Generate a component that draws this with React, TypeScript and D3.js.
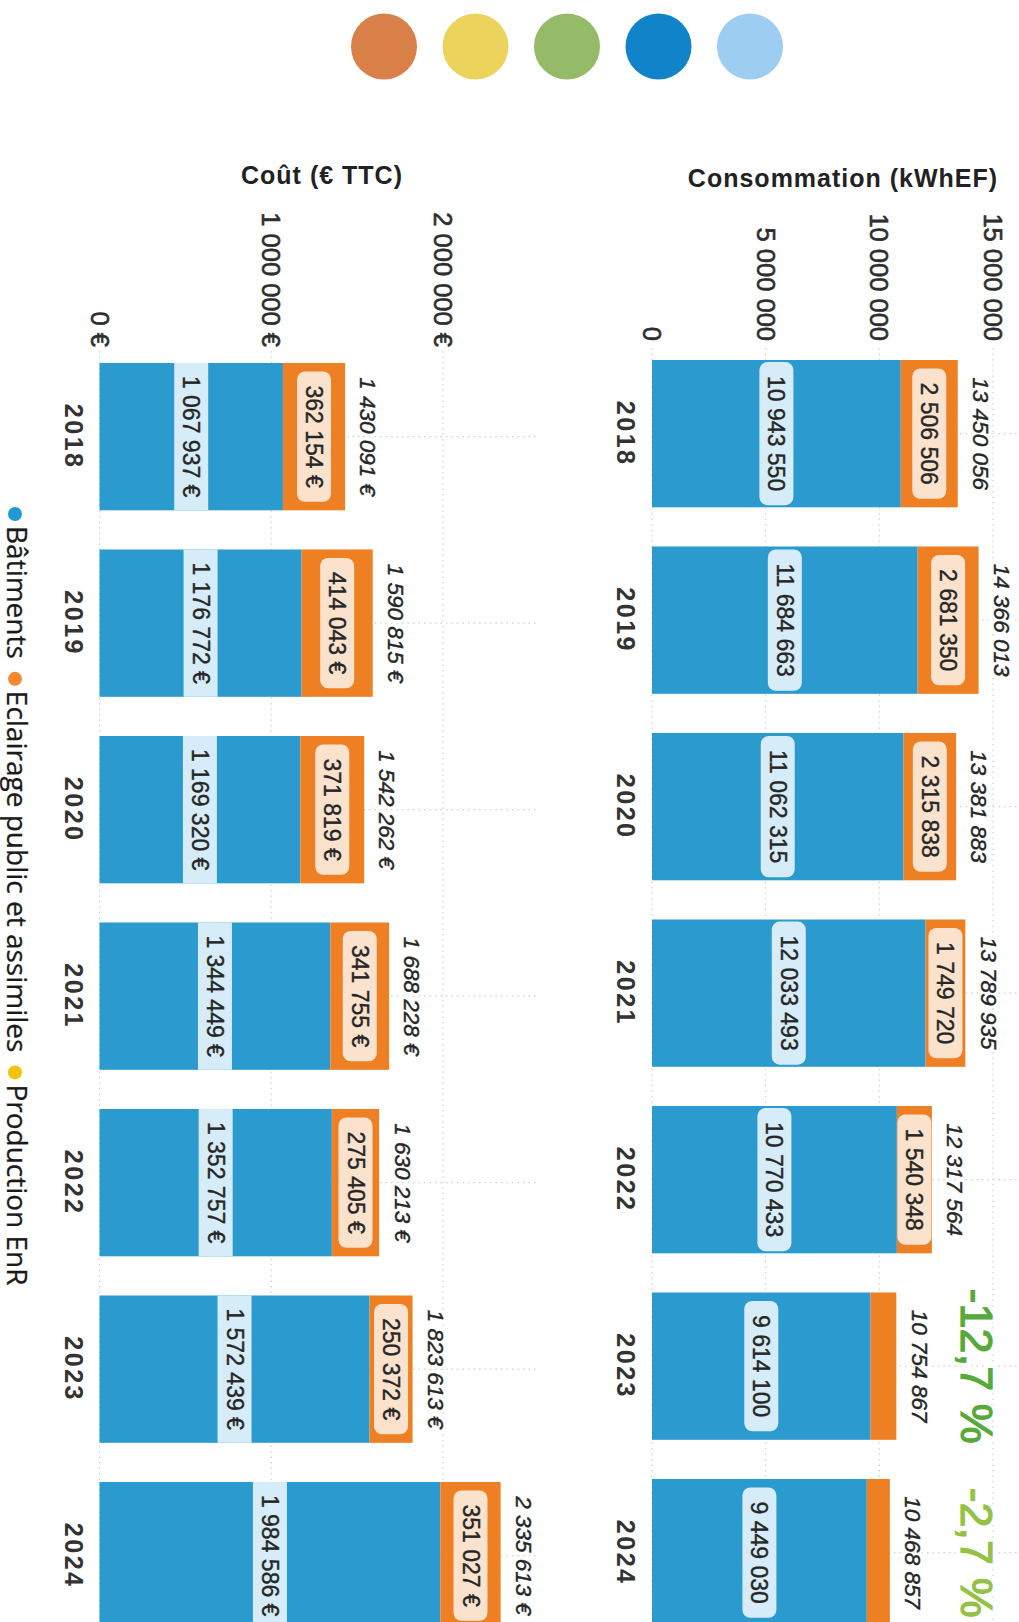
import React from 'react';
import * as d3 from 'd3';

// ---------- DATA ----------
const years = ['2018', '2019', '2020', '2021', '2022', '2023', '2024'];
const consoBatiments = [10943550, 11684663, 11062315, 12033493, 10770433, 9614100, 9449030];
const consoEclairage = [2506506, 2681350, 2315838, 1749720, 1540348, 1134000, 1013000];
const consoTotals = [13450056, 14366013, 13381883, 13789935, 12317564, 10754867, 10468857];
const coutBatiments = [1067937, 1176772, 1169320, 1344449, 1352757, 1572439, 1984586];
const coutEclairage = [362154, 414043, 371819, 341755, 275405, 250372, 351027];
const coutTotals = [1430091, 1590815, 1542262, 1688228, 1630213, 1823613, 2335613];
const consoTicks = [0, 5000000, 10000000, 15000000];
const coutTicks = [0, 1000000, 2000000];
const evolutionYears = ['2023', '2024'];
const evolutionLabels = ['-12,7 %', '-2,7 %'];
const evolutionColors = ['#56a93a', '#93c244'];
const legendLabels = ['Bâtiments', 'Eclairage public et assimiles', 'Production EnR'];
const legendColors = ['#2099d4', '#f18a2f', '#f4c20d'];
const decoColors = ['#d97f48', '#ecd45c', '#95bb68', '#1184c9', '#9dcdf0'];

// ---------- STYLE ----------
const W = 1019;
const H = 1622;
const BLUE = '#2b9bcf';
const ORANGE = '#ee7f22';
const BADGE_BLUE = '#d6edf9';
const BADGE_ORANGE = '#fbe2cd';
const TXT = '#262626';
const SANS = '"Liberation Sans", Arial, sans-serif';

const fr = d3.formatLocale({ decimal: ',', thousands: ' ', grouping: [3], currency: ['', ' €'] });
const fmtInt = fr.format(',d');
const fmtEuro = (v: number) => fmtInt(v) + ' €';

let _ctx: CanvasRenderingContext2D | null = null;
function measure(text: string, font: string): number {
  if (!_ctx) _ctx = document.createElement('canvas').getContext('2d');
  if (!_ctx) return text.length * 12;
  _ctx.font = font;
  return _ctx.measureText(text).width;
}

// band scale along the original (unrotated) horizontal axis
const xBand = d3.scaleBand<string>().domain(years).range([340.4, 340.4 + 1305.5]).paddingInner(0.21).paddingOuter(0.105);

type ChartProps = {
  bat: number[];
  ecl: number[];
  totals: number[];
  ticks: number[];
  y: d3.ScaleLinear<number, number>;
  fmt: (v: number) => string;
  tickEnd: number;
  plotTop: number;
  offsetX: number;
};

function StackChart({ bat, ecl, totals, ticks, y, fmt, tickEnd, plotTop, offsetX }: ChartProps) {
  const bw = xBand.bandwidth();
  const badgeFont = `23px ${SANS}`;
  const y0 = y(0);
  const badge = (key: string, cx: number, a: number, b: number, fill: string, label: string) => {
    const thick = y(a) - y(b);
    if (thick < 30) return null;
    const cy = (y(a) + y(b)) / 2;
    const tw = measure(label, badgeFont) + 28;
    const full = tw >= bw;
    const w = full ? bw : tw;
    const h = Math.min(34, thick);
    return (
      <g key={key}>
        <rect x={cx - w / 2} y={cy - h / 2} width={w} height={h} rx={full ? 0 : 8} fill={fill} />
        <text x={cx} y={cy} textAnchor="middle" dominantBaseline="central" fontFamily={SANS} fontSize={23} fill={TXT}
          stroke={TXT} strokeWidth={0.4}>
          {label}
        </text>
      </g>
    );
  };
  return (
    <g transform={`translate(${offsetX},0)`}>
      {ticks.map((t) => (
        <line key={'g' + t} x1={348} x2={H} y1={y(t)} y2={y(t)} stroke="#cfcfcf" strokeWidth={1.2} strokeDasharray="1.5 4" />
      ))}
      {years.map((yr) => (
        <line key={'c' + yr} x1={xBand(yr)! + bw / 2} x2={xBand(yr)! + bw / 2} y1={y0} y2={plotTop} stroke="#cfcfcf" strokeWidth={1.2} strokeDasharray="1.5 4" />
      ))}
      {ticks.map((t) => (
        <text key={'t' + t} x={tickEnd} y={y(t)} textAnchor="end" dominantBaseline="central" fontFamily={SANS} fontSize={25.5} fill="#2e2e2e"
          stroke="#2e2e2e" strokeWidth={0.6}>
          {fmt(t)}
        </text>
      ))}
      {years.map((yr, i) => {
        const x0 = xBand(yr)!;
        const cx = x0 + bw / 2;
        return (
          <g key={'b' + yr}>
            <rect x={x0} width={bw} y={y(bat[i])} height={y0 - y(bat[i])} fill={BLUE} />
            <rect x={x0} width={bw} y={y(bat[i] + ecl[i])} height={y(bat[i]) - y(bat[i] + ecl[i])} fill={ORANGE} />
            {badge('bb' + yr, cx, 0, bat[i], BADGE_BLUE, fmt(bat[i]))}
            {badge('bo' + yr, cx, bat[i], bat[i] + ecl[i], BADGE_ORANGE, fmt(ecl[i]))}
            <text x={cx} y={y(totals[i]) - 15} textAnchor="middle" fontFamily={SANS} fontStyle="italic" fontSize={22.5} fill="#fff"
              stroke="#fff" strokeWidth={6} strokeLinejoin="round">
              {fmt(totals[i])}
            </text>
            <text x={cx} y={y(totals[i]) - 15} textAnchor="middle" fontFamily={SANS} fontStyle="italic" fontSize={22.5} fill={TXT}
              stroke={TXT} strokeWidth={0.4}>
              {fmt(totals[i])}
            </text>
            <text x={cx} y={y0 + 35} textAnchor="middle" fontFamily={SANS} fontWeight="bold" fontSize={25} letterSpacing={2.5} fill="#333">
              {yr}
            </text>
          </g>
        );
      })}
    </g>
  );
}

function Legend() {
  const font = `28px "Open Sans", sans-serif`;
  let cur = 514;
  const items = legendLabels.map((lab, i) => {
    const dotX = cur;
    const textX = dotX + 12;
    const w = measure(lab, font);
    cur = textX + w + 20;
    return (
      <g key={lab}>
        <circle cx={dotX} cy={1004} r={7} fill={legendColors[i]} />
        <text x={textX} y={1012} fontFamily='"Open Sans", sans-serif' fontSize={28} fill="#1a1a1a" stroke="#1a1a1a" strokeWidth={0.3}>
          {lab}
        </text>
      </g>
    );
  });
  return <g>{items}</g>;
}

export default function App() {
  // value scales in the original (unrotated) page: Y grows downward
  const yConso = d3.scaleLinear().domain([0, 15000000]).range([W - 652, W - 993]);
  const yCout = d3.scaleLinear().domain([0, 2000000]).range([W - 99.5, W - 443]);
  const bw = xBand.bandwidth();
  const decoX = d3.scalePoint<string>().domain(decoColors).range([384, 750]);

  return (
    <svg width={W} height={H} viewBox={`0 0 ${W} ${H}`} style={{ position: 'absolute', left: 0, top: 0, background: '#fff' }}>
      <rect x={0} y={0} width={W} height={H} fill="#fff" />
      {decoColors.map((c) => (
        <circle key={c} cx={decoX(c)} cy={46.5} r={33} fill={c} />
      ))}
      <text x={843} y={187} textAnchor="middle" fontFamily={SANS} fontWeight="bold" fontSize={25} letterSpacing={1} fill="#222">
        Consommation (kWhEF)
      </text>
      <text x={322} y={184} textAnchor="middle" fontFamily={SANS} fontWeight="bold" fontSize={25} letterSpacing={1} fill="#222">
        Coût (€ TTC)
      </text>
      <g transform={`translate(${W},0) rotate(90)`}>
        <StackChart bat={consoBatiments} ecl={consoEclairage} totals={consoTotals} ticks={consoTicks} y={yConso}
          fmt={fmtInt} tickEnd={341} plotTop={0} offsetX={0} />
        <StackChart bat={coutBatiments} ecl={coutEclairage} totals={coutTotals} ticks={coutTicks} y={yCout}
          fmt={fmtEuro} tickEnd={344} plotTop={W - 538} offsetX={3} />
        {evolutionYears.map((yr, i) => (
          <g key={yr}>
            <text x={xBand(yr)! + bw / 2} y={58} textAnchor="middle" fontFamily={SANS} fontSize={45}
              fill="#fff" stroke="#fff" strokeWidth={7}>
              {evolutionLabels[i]}
            </text>
            <text x={xBand(yr)! + bw / 2} y={58} textAnchor="middle" fontFamily={SANS} fontSize={45}
              fill={evolutionColors[i]} stroke={evolutionColors[i]} strokeWidth={1.2}>
              {evolutionLabels[i]}
            </text>
          </g>
        ))}
        <Legend />
      </g>
    </svg>
  );
}
